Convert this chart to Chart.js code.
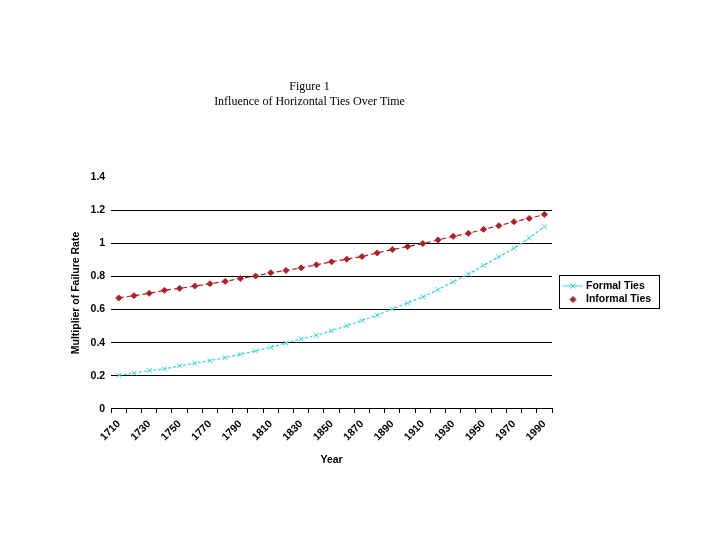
<!DOCTYPE html>
<html>
<head>
<meta charset="utf-8">
<script src="https://cdn.jsdelivr.net/npm/chart.js@4/dist/chart.umd.min.js"></script>
<style>
  body { margin: 0; background: #fff; }
</style>
</head>
<body>
<canvas id="chart" width="720" height="540"></canvas>
<script>
// categories (every decade), only every other one is labelled
const years = ['1710', '1720', '1730', '1740', '1750', '1760', '1770', '1780', '1790', '1800',
  '1810', '1820', '1830', '1840', '1850', '1860', '1870', '1880', '1890', '1900',
  '1910', '1920', '1930', '1940', '1950', '1960', '1970', '1980', '1990'];
const xTickLabels = ['1710', '', '1730', '', '1750', '', '1770', '', '1790', '',
  '1810', '', '1830', '', '1850', '', '1870', '', '1890', '',
  '1910', '', '1930', '', '1950', '', '1970', '', '1990'];
const yTickLabels = ['0', '0.2', '0.4', '0.6', '0.8', '1', '1.2', '1.4'];

const formalTies = [0.204, 0.216, 0.232, 0.242, 0.260, 0.276, 0.292, 0.310, 0.330, 0.350,
  0.372, 0.398, 0.422, 0.444, 0.472, 0.502, 0.534, 0.566, 0.604, 0.640,
  0.676, 0.720, 0.768, 0.814, 0.866, 0.918, 0.970, 1.032, 1.100];
const informalTies = [0.670, 0.684, 0.698, 0.716, 0.728, 0.742, 0.756, 0.770, 0.788, 0.802,
  0.822, 0.836, 0.852, 0.870, 0.888, 0.904, 0.920, 0.942, 0.962, 0.980,
  0.998, 1.020, 1.042, 1.060, 1.084, 1.106, 1.130, 1.150, 1.174];

const boldFont = { family: 'Liberation Sans, Arial, sans-serif', size: 10.5, weight: 'bold' };

// legend with a frame, drawn by hand (line + marker for one series, marker only for the other)
const boxLegend = {
  id: 'boxLegend',
  afterDraw(chart) {
    const ctx = chart.ctx;
    const x0 = chart.chartArea.right + 7;
    const y0 = 275;
    ctx.save();
    ctx.strokeStyle = '#000';
    ctx.lineWidth = 1;
    ctx.strokeRect(x0 + 0.5, y0 + 0.5, 100, 33);
    ctx.font = 'bold 10.5px Liberation Sans, Arial, sans-serif';
    ctx.fillStyle = '#000';
    ctx.textBaseline = 'middle';
    chart.data.datasets.forEach((ds, i) => {
      const y = y0 + 11 + i * 13.5;
      const mx = x0 + 14;
      if (ds.showLegendLine) {
        ctx.strokeStyle = ds.borderColor;
        ctx.lineWidth = 1;
        ctx.beginPath();
        ctx.moveTo(x0 + 4, y);
        ctx.lineTo(x0 + 24, y);
        ctx.stroke();
      }
      ctx.fillStyle = ds.pointBackgroundColor;
      ctx.strokeStyle = ds.pointBorderColor;
      Chart.helpers.drawPoint(ctx, { pointStyle: ds.pointStyle, radius: ds.pointRadius, borderWidth: 1, rotation: 0 }, mx, y);
      ctx.fillStyle = '#000';
      ctx.fillText(ds.label, x0 + 27, y);
    });
    ctx.restore();
  }
};

new Chart(document.getElementById('chart'), {
  type: 'line',
  data: {
    labels: years,
    datasets: [
      {
        label: 'Formal Ties',
        data: formalTies,
        borderColor: '#38d4d4',
        borderWidth: 1.2,
        borderDash: [3, 2],
        pointStyle: 'crossRot',
        pointRadius: 3.5,
        pointBorderWidth: 1,
        pointBackgroundColor: '#38d4d4',
        pointBorderColor: '#38d4d4',
        showLegendLine: true,
        tension: 0
      },
      {
        label: 'Informal Ties',
        data: informalTies,
        borderColor: '#b01e28',
        borderWidth: 1.2,
        borderDash: [5, 3],
        pointStyle: 'rectRot',
        pointRadius: 3,
        pointBorderWidth: 1,
        pointBackgroundColor: '#b01e28',
        pointBorderColor: '#b01e28',
        showLegendLine: false,
        tension: 0
      }
    ]
  },
  options: {
    responsive: false,
    animation: false,
    layout: {
      padding: { top: 79, right: 168, left: 67, bottom: 72 }
    },
    scales: {
      x: {
        offset: true,
        grid: {
          offset: true,
          drawOnChartArea: false,
          drawTicks: true,
          tickLength: 4,
          color: '#000'
        },
        border: { display: true, color: '#000', width: 1 },
        ticks: {
          autoSkip: false,
          minRotation: 45,
          maxRotation: 45,
          padding: 5,
          labelOffset: 0,
          color: '#000',
          font: boldFont,
          callback: (val, index) => xTickLabels[index]
        },
        title: {
          display: true,
          text: 'Year',
          color: '#000',
          font: boldFont,
          padding: { top: 5, bottom: 2 }
        }
      },
      y: {
        min: 0,
        max: 1.4,
        ticks: {
          stepSize: 0.2,
          padding: 6,
          color: '#000',
          font: boldFont,
          callback: (val, index) => yTickLabels[index]
        },
        grid: {
          drawTicks: false,
          color: (c) => (c.index === 0 || c.index === yTickLabels.length - 1) ? 'rgba(0,0,0,0)' : '#000'
        },
        border: { display: false },
        title: {
          display: true,
          text: 'Multiplier of Failure Rate',
          color: '#000',
          font: boldFont,
          padding: { top: 3, bottom: 2 }
        }
      }
    },
    plugins: {
      legend: { display: false },
      tooltip: { enabled: false },
      title: {
        display: true,
        text: ['Figure 1', 'Influence of Horizontal Ties Over Time'],
        color: '#000',
        font: { family: 'Liberation Serif, Times New Roman, serif', size: 12, weight: 'normal', lineHeight: 1.25 },
        padding: { top: 0, bottom: 68 }
      }
    }
  },
  plugins: [boxLegend]
});
</script>
</body>
</html>
